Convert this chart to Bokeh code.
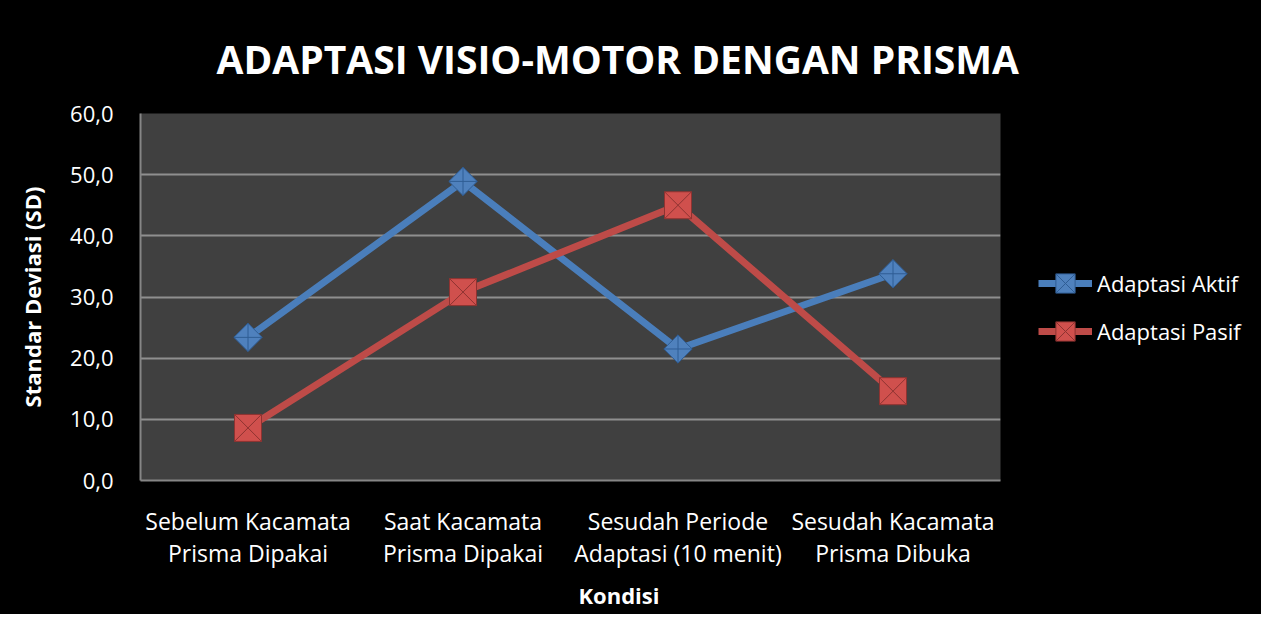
import numpy as np
from bokeh.plotting import figure
from bokeh.layouts import row
from bokeh.models import Range1d, FixedTicker, Legend, LegendItem, Title
from bokeh.embed import file_html
from bokeh.resources import INLINE

categories = ["Sebelum Kacamata\nPrisma Dipakai", "Saat Kacamata\nPrisma Dipakai",
              "Sesudah Periode\nAdaptasi (10 menit)", "Sesudah Kacamata\nPrisma Dibuka"]
aktif = [23.4, 48.9, 21.5, 33.8]
pasif = [8.6, 30.8, 45.0, 14.6]
series_names = ["Adaptasi Aktif", "Adaptasi Pasif"]
y_ticks = [0, 10, 20, 30, 40, 50, 60]
y_tick_labels = ["0,0", "10,0", "20,0", "30,0", "40,0", "50,0", "60,0"]

FONT = "Open Sans"
BLUE, BLUE_M, BLUE_E = "#4a7ebb", "#4f81bd", "#2f5d94"
RED, RED_M, RED_E = "#be4b48", "#d0504d", "#8e3331"

# ---- main chart ----
p = figure(x_range=categories, y_range=Range1d(0, 60), width=1025, height=614,
           output_backend="svg", toolbar_location=None,
           background_fill_color="#404040", border_fill_color="black",
           min_border_left=140, min_border_right=25, min_border_top=113, min_border_bottom=134,
           outline_line_color=None)

p.xgrid.visible = False
p.ygrid.grid_line_color = "#8f8f8f"
p.ygrid.grid_line_width = 2

p.yaxis.ticker = FixedTicker(ticks=y_ticks)
p.yaxis.major_label_overrides = {t: l for t, l in zip(y_ticks, y_tick_labels)}
for ax in (p.xaxis[0], p.yaxis[0]):
    ax.axis_line_color = "#868686"
    ax.axis_line_width = 2
    ax.major_tick_line_color = None
    ax.minor_tick_line_color = None
    ax.major_label_text_color = "white"
    ax.major_label_text_font = FONT
    ax.major_label_text_font_size = "22px"

p.yaxis.major_label_standoff = 21
p.yaxis.axis_label = "Standar Deviasi (SD)"
p.yaxis.axis_label_text_font = FONT
p.yaxis.axis_label_text_font_size = "22px"
p.yaxis.axis_label_text_font_style = "bold"
p.yaxis.axis_label_text_color = "white"
p.yaxis.axis_label_standoff = 20

p.xaxis.major_label_standoff = 18
p.xaxis.major_label_text_font_size = "23px"
p.xaxis.major_label_text_line_height = 1.02

p.line(categories, aktif, line_color=BLUE, line_width=7)
p.line(categories, pasif, line_color=RED, line_width=7)
p.scatter(categories, aktif, marker="square_x", angle=np.pi / 4, size=20,
          fill_color=BLUE_M, line_color=BLUE_E, line_width=1)
p.scatter(categories, pasif, marker="square_x", size=27,
          fill_color=RED_M, line_color=RED_E, line_width=1)

p.add_layout(Title(text="ADAPTASI VISIO-MOTOR DENGAN PRISMA", align="left", offset=76,
                   standoff=58, text_font=FONT, text_font_size="39px",
                   text_font_style="bold", text_color="white"), "above")
p.add_layout(Title(text="Kondisi", align="left", offset=438, standoff=10,
                   text_font=FONT, text_font_size="22px", text_font_style="bold",
                   text_color="white"), "below")

# ---- legend panel (same series, styled identically; only the legend keys show) ----
q = figure(x_range=p.x_range, y_range=Range1d(1000, 1001), width=236, height=614,
           output_backend="svg", toolbar_location=None,
           x_axis_location=None, y_axis_location=None,
           background_fill_color="black", border_fill_color="black",
           min_border=0, outline_line_color=None)
q.grid.visible = False
ql1 = q.line(categories, aktif, line_color=BLUE, line_width=7)
qm1 = q.scatter(categories, aktif, marker="square_x", angle=np.pi / 4, size=20,
                fill_color=BLUE_M, line_color=BLUE_E, line_width=1)
ql2 = q.line(categories, pasif, line_color=RED, line_width=7)
qm2 = q.scatter(categories, pasif, marker="square_x", size=27,
                fill_color=RED_M, line_color=RED_E, line_width=1)

legend = Legend(items=[LegendItem(label=series_names[0], renderers=[ql1, qm1]),
                       LegendItem(label=series_names[1], renderers=[ql2, qm2])],
                location=(13, 125), glyph_width=54, glyph_height=48, spacing=0,
                padding=0, margin=0, label_standoff=5,
                label_text_font=FONT, label_text_font_size="22px", label_text_color="white",
                background_fill_alpha=0, border_line_alpha=0)
q.add_layout(legend)

layout = row(p, q, spacing=0, styles={"background-color": "black"})
open("out.html", "w").write(file_html(layout, INLINE))
